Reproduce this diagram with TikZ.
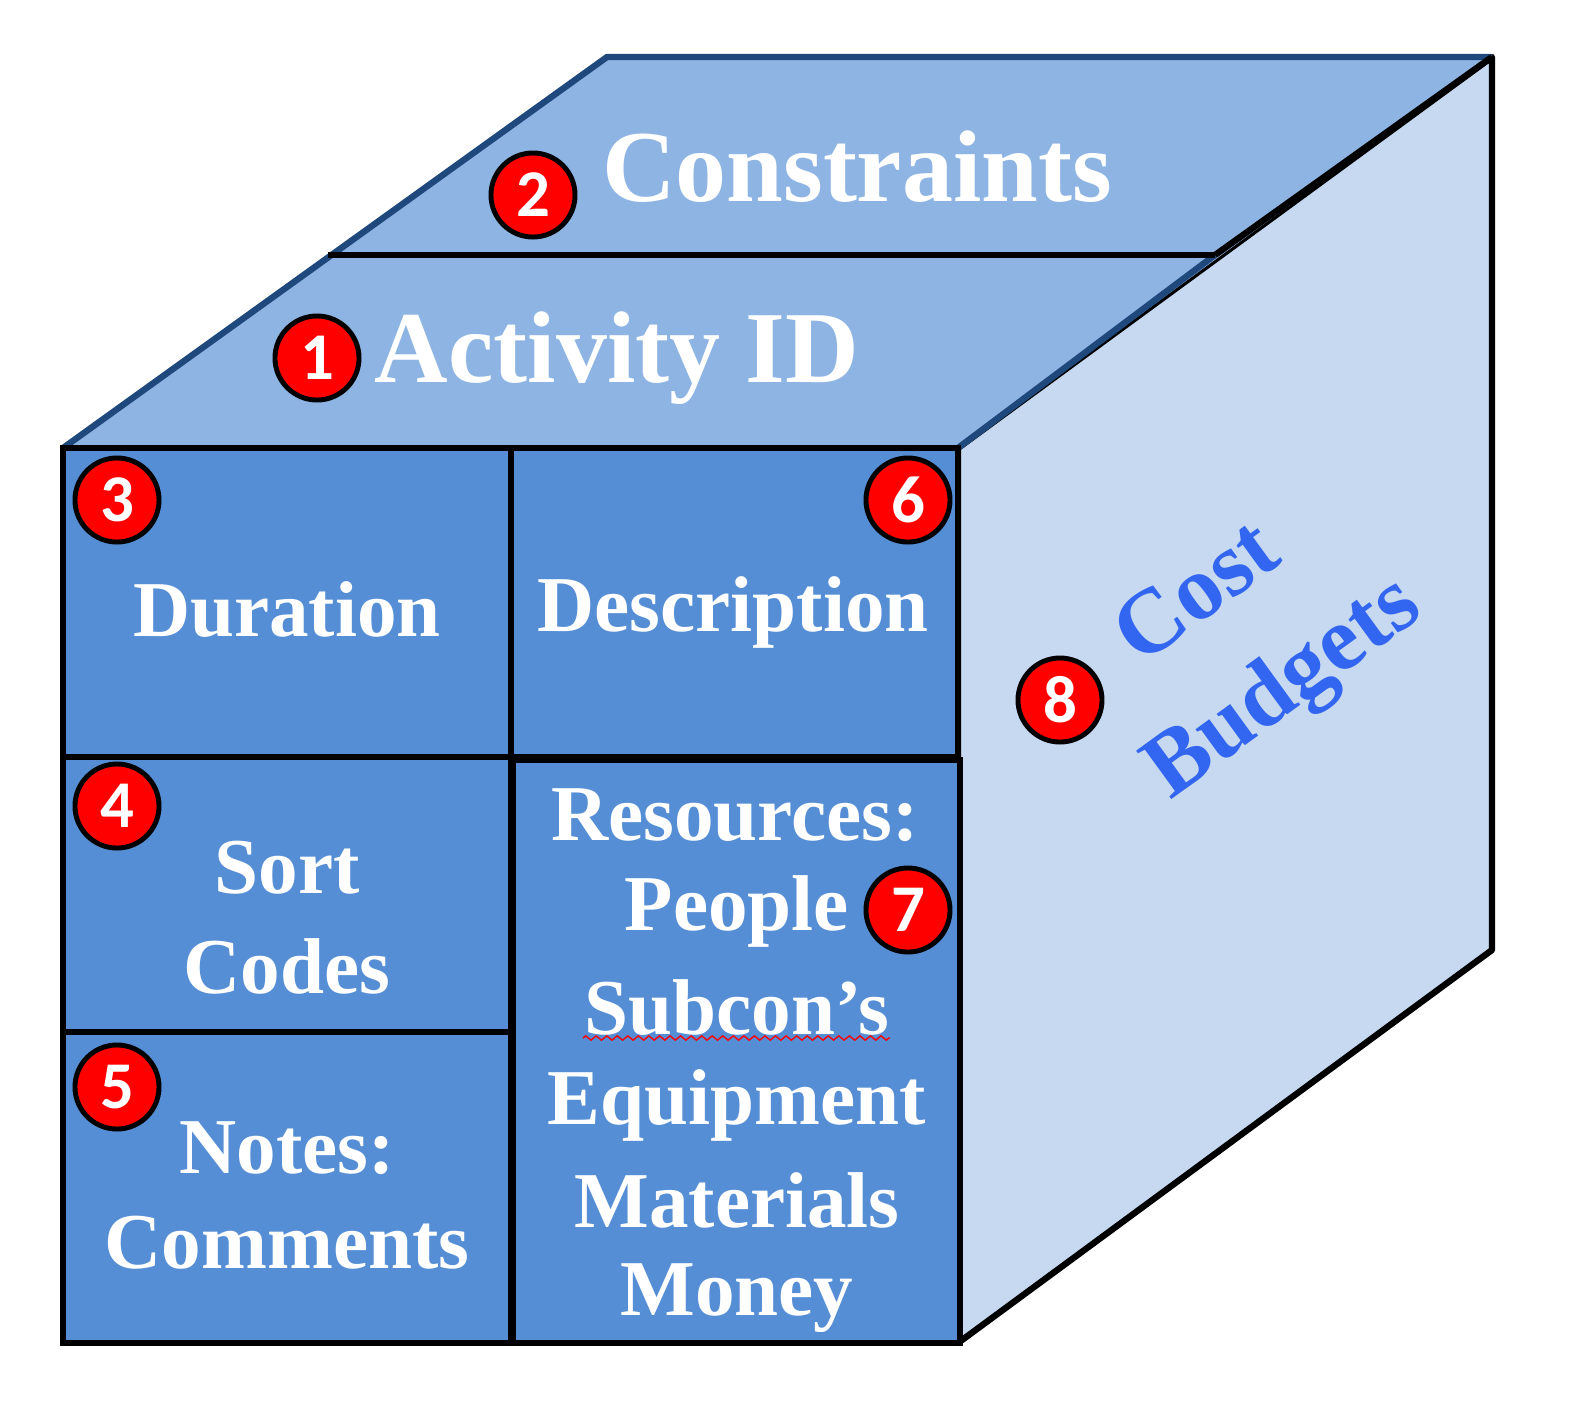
\documentclass[tikz,border=0pt]{standalone}
\usepackage{fontspec}
\setmainfont{Liberation Serif}
\newfontfamily\numfont{Carlito}
\usetikzlibrary{decorations.pathmorphing}
\definecolor{topc}{HTML}{8EB4E3}
\definecolor{frontc}{HTML}{558ED5}
\definecolor{sidec}{HTML}{C6D9F1}
\definecolor{edgeblue}{HTML}{1F497D}
\definecolor{costc}{HTML}{3366F0}
\tikzset{
  cell/.style={draw=black,line width=1.8pt,fill=frontc},
  bub/.style={circle,draw=black,line width=1.4pt,fill=red,text=white,minimum size=0.84cm,inner sep=0pt,font=\numfont\fontsize{19}{20}\selectfont\bfseries},
  big/.style={text=white,font=\fontsize{29}{34}\selectfont\bfseries,inner sep=0pt},
  mid/.style={text=white,font=\fontsize{22.5}{27}\selectfont\bfseries,inner sep=0pt,align=center},
  cost/.style={text=costc,font=\fontsize{26}{30}\selectfont\bfseries,inner sep=0pt,rotate=36}
}
\begin{document}
\begin{tikzpicture}[x=0.01cm,y=-0.01cm]
\useasboundingbox (0,0) rectangle (1575,1417);
\draw[fill=sidec,line width=1.8pt,line join=round] (958,448) -- (1492,57) -- (1492,950) -- (958,1343) -- cycle;
\fill[topc] (63,448) -- (607,57) -- (1492,57) -- (958,448) -- cycle;
\draw[edgeblue,line width=1.8pt] (63,448) -- (607,57) -- (1492,57);
\draw[edgeblue,line width=1.8pt] (958,448) -- (1215,255);
\draw[black,line width=1.8pt] (1215,255) -- (1492,57);
\draw[black,line width=1.8pt] (328,255) -- (1215,255);
\draw[cell] (63,448) rectangle (511,757);
\draw[cell] (511,448) rectangle (958,757);
\draw[cell] (63,757) rectangle (511,1032);
\draw[cell] (63,1032) rectangle (511,1343);
\draw[cell] (513,760) rectangle (960,1343);
\node[big] (con) at (857,167) {Constraints};
\node[big] (act) at (617,358) {Activity ID};
\node[mid] (dur) at (287,610) {Duration};
\node[mid] (des) at (733,612) {Description};
\node[mid] (sc1) at (287,868) {Sort};
\node[mid] (sc2) at (287,966) {Codes};
\node[mid] (nt1) at (287,1148) {Notes:};
\node[mid] (nt2) at (287,1243) {Comments};
\node[mid] (r1) at (735,815) {Resources:};
\node[mid] (r2) at (737,911) {People};
\node[mid] (r3) at (737,1008) {Subcon’s};
\node[mid] (r4) at (737,1105) {Equipment};
\node[mid] (r5) at (737,1200) {Materials};
\node[mid] (r6) at (737,1298) {Money};
\draw[red,line width=0.4pt,decorate,decoration={zigzag,amplitude=0.6pt,segment length=3pt}] (583,1038) -- (890,1038);
\node[cost] (c1) at (1195,590) {Cost};
\node[cost] (c2) at (1285,690) {Budgets};
\node[bub] (b1) at (317,358) {1};
\node[bub] (b2) at (533,195) {2};
\node[bub] (b3) at (117,500) {3};
\node[bub] (b4) at (117,806) {4};
\node[bub] (b5) at (117,1087) {5};
\node[bub] (b6) at (908,500) {6};
\node[bub] (b7) at (908,910) {7};
\node[bub] (b8) at (1060,700) {8};
\end{tikzpicture}
\end{document}
